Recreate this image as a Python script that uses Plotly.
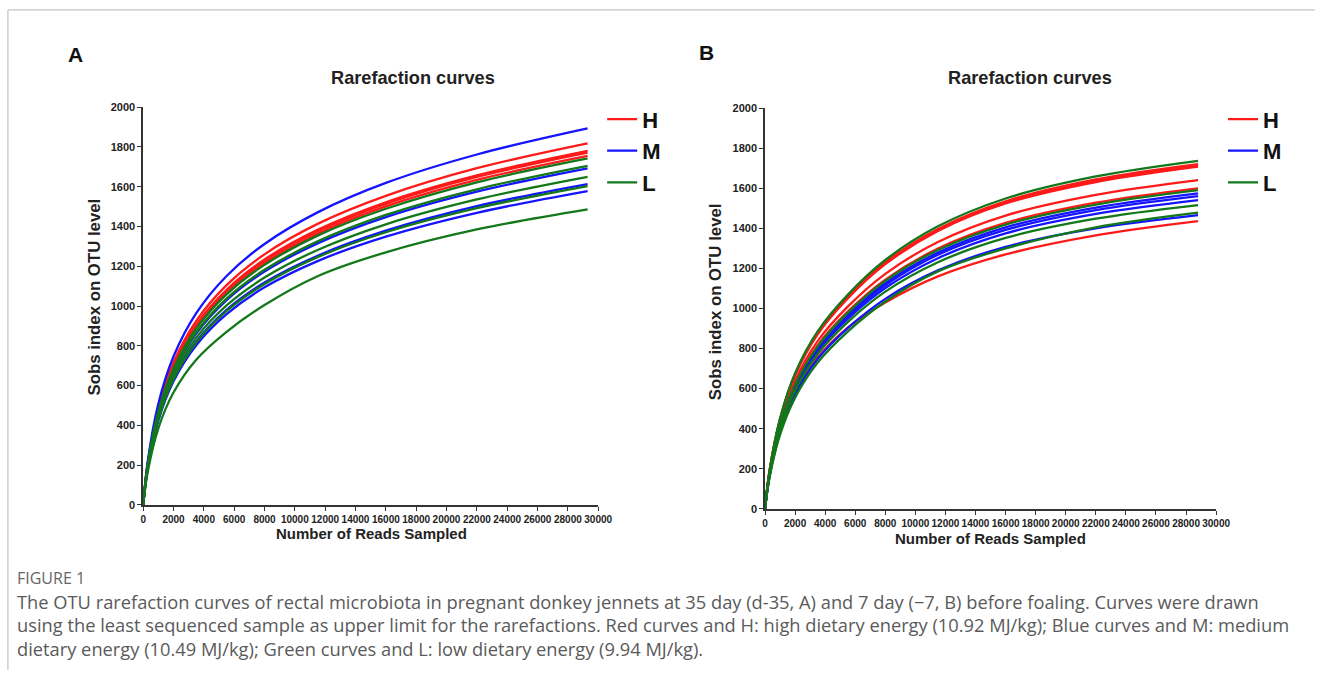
import plotly.graph_objects as go

# ---------------- data ----------------
READS_A = [0, 300, 1000, 2000, 3500, 5500, 8000, 11500, 16000, 22000, 29300]
READS_B = [0, 300, 1000, 2000, 3500, 5500, 8000, 11500, 16000, 22000, 28800]

A_H = [
    [0, 209, 489, 716, 925, 1105, 1260, 1413, 1554, 1693, 1818],
    [0, 205, 479, 701, 906, 1082, 1234, 1383, 1522, 1657, 1780],
    [0, 204, 476, 698, 901, 1077, 1227, 1376, 1514, 1649, 1771],
    [0, 202, 472, 691, 893, 1067, 1216, 1364, 1501, 1634, 1755],
]
A_M = [
    [0, 218, 509, 746, 964, 1151, 1312, 1471, 1619, 1762, 1893],
    [0, 195, 455, 667, 861, 1029, 1173, 1315, 1447, 1575, 1692],
    [0, 185, 434, 636, 821, 981, 1118, 1253, 1379, 1502, 1613],
    [0, 181, 424, 622, 803, 959, 1094, 1226, 1349, 1469, 1578],
]
A_L = [
    [0, 200, 469, 686, 887, 1059, 1207, 1354, 1489, 1622, 1742],
    [0, 196, 459, 672, 868, 1037, 1182, 1325, 1458, 1587, 1705],
    [0, 190, 444, 650, 840, 1003, 1143, 1282, 1411, 1536, 1650],
    [0, 184, 431, 632, 816, 975, 1111, 1246, 1371, 1492, 1603],
    [0, 165, 385, 565, 730, 870, 1005, 1150, 1270, 1385, 1486],
]

B_H = [
    [0, 189, 447, 671, 878, 1058, 1231, 1397, 1535, 1644, 1721],
    [0, 189, 446, 668, 874, 1054, 1226, 1392, 1529, 1637, 1714],
    [0, 188, 444, 666, 871, 1050, 1221, 1387, 1524, 1631, 1708],
    [0, 181, 427, 640, 837, 1009, 1173, 1332, 1464, 1567, 1641],
    [0, 176, 416, 624, 816, 984, 1144, 1299, 1427, 1528, 1600],
    [0, 165, 385, 575, 755, 905, 1030, 1160, 1270, 1365, 1436],
]
B_M = [
    [0, 173, 410, 614, 803, 969, 1126, 1279, 1405, 1504, 1575],
    [0, 172, 406, 609, 796, 960, 1116, 1268, 1392, 1491, 1561],
    [0, 170, 401, 601, 786, 948, 1102, 1251, 1375, 1472, 1541],
    [0, 161, 381, 572, 748, 902, 1048, 1190, 1308, 1400, 1466],
]
B_L = [
    [0, 191, 452, 677, 886, 1068, 1242, 1410, 1549, 1659, 1737],
    [0, 175, 414, 620, 811, 978, 1138, 1292, 1419, 1519, 1591],
    [0, 167, 394, 591, 773, 932, 1084, 1231, 1352, 1448, 1516],
    [0, 155, 370, 555, 730, 885, 1035, 1185, 1300, 1405, 1478],
]

GROUPS = ["H", "M", "L"]
COLORS = {"H": "#ff1a1a", "M": "#1414ff", "L": "#12781a"}

# ---------------- figure ----------------
PAGE_W, PAGE_H = 1331, 686
OFF = 8                      # default body margin of the page
W, H = PAGE_W - 2 * OFF, PAGE_H - 2 * OFF


def px(x):
    return (x - OFF) / W


def py(y):
    return 1 - (y - OFF) / H


fig = go.Figure()


def add_panel(reads, groups, xa, ya, legend):
    for g, curves in zip(GROUPS, groups):
        for i, ys in enumerate(curves):
            fig.add_trace(go.Scatter(
                x=reads, y=ys, mode="lines", name=g,
                line=dict(color=COLORS[g], width=2.3, shape="spline", smoothing=1.0),
                xaxis=xa, yaxis=ya, legend=legend, legendgroup=legend + g,
                showlegend=(i == 0), hoverinfo="skip",
            ))


add_panel(READS_A, [A_H, A_M, A_L], "x", "y", "legend")
add_panel(READS_B, [B_H, B_M, B_L], "x2", "y2", "legend2")

font_family = "Liberation Sans, Arial, sans-serif"
axis_common = dict(
    showgrid=False, zeroline=False, showline=True, linecolor="#333",
    linewidth=1.5, ticks="outside", ticklen=4, tickwidth=1.2, tickcolor="#333",
    tickangle=0,
)
xcommon = dict(axis_common, range=[0, 30000], dtick=2000, tick0=0, tickformat="d",
               tickfont=dict(family=font_family, size=10, color="#222", weight="bold"))
ycommon = dict(axis_common, range=[0, 2000], dtick=200, tick0=0, tickformat="d",
               tickfont=dict(family=font_family, size=11, color="#222", weight="bold"))

legend_font = dict(family=font_family, size=22, color="#111", weight="bold")
fig.update_layout(
    width=W, height=H,
    margin=dict(l=0, r=0, t=0, b=0),
    paper_bgcolor="white", plot_bgcolor="rgba(0,0,0,0)",
    xaxis=dict(xcommon, domain=[px(150), px(611)], anchor="y"),
    yaxis=dict(ycommon, domain=[py(516), py(111)], anchor="x"),
    xaxis2=dict(xcommon, domain=[px(780), px(1237)], anchor="y2"),
    yaxis2=dict(ycommon, domain=[py(520), py(112)], anchor="x2"),
    legend=dict(x=px(615), y=py(102), xanchor="left", yanchor="top",
                bgcolor="rgba(0,0,0,0)", itemwidth=30, tracegroupgap=0, font=legend_font),
    legend2=dict(x=px(1244), y=py(102), xanchor="left", yanchor="top",
                 bgcolor="rgba(0,0,0,0)", itemwidth=30, tracegroupgap=0, font=legend_font),
    showlegend=True,
)

# frame of the figure box
fig.add_shape(type="rect", xref="paper", yref="paper",
              x0=px(13), y0=-0.05, x1=1.05, y1=py(12),
              line=dict(color="#b5b5b5", width=1), fillcolor="rgba(0,0,0,0)")


def ann(text, x, y, size, xanchor="center", angle=0, color="#111", weight="bold", family=font_family):
    fig.add_annotation(text=text, x=px(x), y=py(y), xref="paper", yref="paper",
                       xanchor=xanchor, yanchor="middle", showarrow=False,
                       textangle=angle,
                       font=dict(family=family, size=size, color=color, weight=weight))


ann("A", 81, 57, 21)
ann("B", 721, 55, 21)
ann("Rarefaction curves", 423, 81, 18.2, color="#222")
ann("Rarefaction curves", 1048, 81, 18.2, color="#222")
ann("Sobs index on OTU level", 101, 304, 16.8, angle=-90, color="#222")
ann("Number of Reads Sampled", 381, 545, 15, color="#222")
ann("Sobs index on OTU level", 730, 309, 16.8, angle=-90, color="#222")
ann("Number of Reads Sampled", 1008, 550, 15, color="#222")

cap_family = "Open Sans, Noto Sans, sans-serif"
ann("FIGURE 1", 20, 590, 16, xanchor="left", color="#666", weight="normal", family=cap_family)
CAPTION = [
    "The OTU rarefaction curves of rectal microbiota in pregnant donkey jennets at 35 day (d-35, A) and 7 day (\u22127, B) before foaling. Curves were drawn",
    "using the least sequenced sample as upper limit for the rarefactions. Red curves and H: high dietary energy (10.92 MJ/kg); Blue curves and M: medium",
    "dietary energy (10.49 MJ/kg); Green curves and L: low dietary energy (9.94 MJ/kg).",
]
for k, line in enumerate(CAPTION):
    ann(line, 20, 614 + 24 * k, 18.3, xanchor="left", color="#5a5a5a", weight="normal", family=cap_family)

fig.write_html("out.html")
